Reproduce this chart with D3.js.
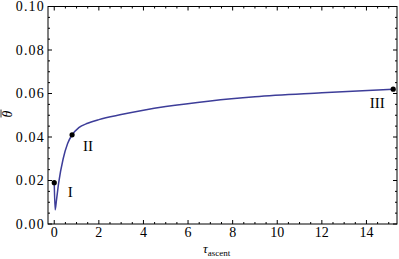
<!DOCTYPE html>
<html>
<head>
<meta charset="utf-8">
<script src="https://cdn.jsdelivr.net/npm/d3@7"></script>
<style>
  body { margin: 0; background: #fff; }
</style>
</head>
<body>
<svg id="chart" viewBox="0 0 399 259" width="399" height="259"></svg>
<script>
// curve (tau, theta)
const tau = [0, 0.04, 0.1, 0.2, 0.4, 0.6, 0.8, 1.1, 1.5, 2.0, 3.0, 4.0, 5.0, 7.0, 9.0, 12.0, 15.2];
const theta = [0.019, 0.0065, 0.011, 0.019, 0.030, 0.037, 0.041, 0.0443, 0.0463, 0.048, 0.0503, 0.0523, 0.054, 0.0566, 0.0585, 0.0603, 0.062];

const markerNames = ["I", "II", "III"];
const markerTau = [0, 0.8, 15.2];
const markerTheta = [0.019, 0.041, 0.062];

const xTicks = [0, 2, 4, 6, 8, 10, 12, 14];
const yTicks = [0, 0.02, 0.04, 0.06, 0.08, 0.10];

const serif = "'Liberation Serif', 'Times New Roman', Times, serif";
const svg = d3.select("#chart").attr("font-family", serif);
const mLeft = 48, mRight = 397, mTop = 6.5, mBottom = 224;

const x = d3.scaleLinear().domain([-0.28, 15.37]).range([mLeft, mRight]);
const y = d3.scaleLinear().domain([0, 0.1]).range([mBottom, mTop]);

const frame = svg.append("g");

// minor/major ticks, inward, on all four sides
const xMinor = d3.range(0, 15.3, 0.5);
const yMinor = d3.range(0, 0.1001, 0.005);

xMinor.forEach(v => {
  const major = Math.abs(v % 2) < 1e-9;
  const len = major ? 4 : 2;
  frame.append("line").attr("x1", x(v)).attr("x2", x(v))
    .attr("y1", mBottom).attr("y2", mBottom - len);
  frame.append("line").attr("x1", x(v)).attr("x2", x(v))
    .attr("y1", mTop).attr("y2", mTop + len);
});
yMinor.forEach(v => {
  const major = Math.abs(Math.round(v / 0.005) % 4) === 0;
  const len = major ? 4 : 2;
  frame.append("line").attr("x1", mLeft).attr("x2", mLeft + len)
    .attr("y1", y(v)).attr("y2", y(v));
  frame.append("line").attr("x1", mRight).attr("x2", mRight - len)
    .attr("y1", y(v)).attr("y2", y(v));
});
frame.selectAll("line").attr("stroke", "#000").attr("stroke-width", 1);

frame.append("rect")
  .attr("x", mLeft).attr("y", mTop)
  .attr("width", mRight - mLeft).attr("height", mBottom - mTop)
  .attr("fill", "none").attr("stroke", "#000").attr("stroke-width", 1);

// tick labels
svg.append("g").selectAll("text")
  .data(xTicks).enter().append("text")
  .attr("x", d => x(d)).attr("y", 236.5)
  .attr("text-anchor", "middle").attr("font-size", 14)
  .text(d => d);

svg.append("g").selectAll("text")
  .data(yTicks).enter().append("text")
  .attr("x", 45).attr("y", d => y(d) + 4.5)
  .attr("text-anchor", "end").attr("font-size", 14)
  .attr("letter-spacing", 1.2)
  .text(d => d3.format(".2f")(d));

// axis labels
const xl = svg.append("text").attr("x", 203).attr("y", 253).attr("font-size", 13);
xl.append("tspan").attr("font-style", "italic").text("τ");
xl.append("tspan").attr("font-size", 9).attr("dy", 2.5).text("ascent");

const yl = svg.append("g").attr("transform", "translate(12,114) rotate(-90)");
yl.append("text").attr("text-anchor", "middle").attr("font-size", 14)
  .attr("font-style", "italic").text("θ");
yl.append("line").attr("x1", -3.5).attr("x2", 4.5).attr("y1", -11).attr("y2", -11)
  .attr("stroke", "#000").attr("stroke-width", 0.8);

// curve
const line = d3.line()
  .x(d => x(d[0])).y(d => y(d[1]))
  .curve(d3.curveMonotoneX);

svg.append("path")
  .datum(d3.zip(tau, theta))
  .attr("d", line)
  .attr("fill", "none")
  .attr("stroke", "#3d3d99")
  .attr("stroke-width", 1.5);

// marked points
const pts = d3.zip(markerTau, markerTheta);
svg.append("g").selectAll("circle")
  .data(pts).enter().append("circle")
  .attr("cx", d => x(d[0])).attr("cy", d => y(d[1]))
  .attr("r", 2.6).attr("fill", "#000");

const labelOffsets = [[16, 14], [16, 16], [-16, 19]];
svg.append("g").selectAll("text")
  .data(markerNames).enter().append("text")
  .attr("x", (d, i) => x(markerTau[i]) + labelOffsets[i][0])
  .attr("y", (d, i) => y(markerTheta[i]) + labelOffsets[i][1])
  .attr("text-anchor", "middle").attr("font-size", 15)
  .text(d => d);
</script>
</body>
</html>
